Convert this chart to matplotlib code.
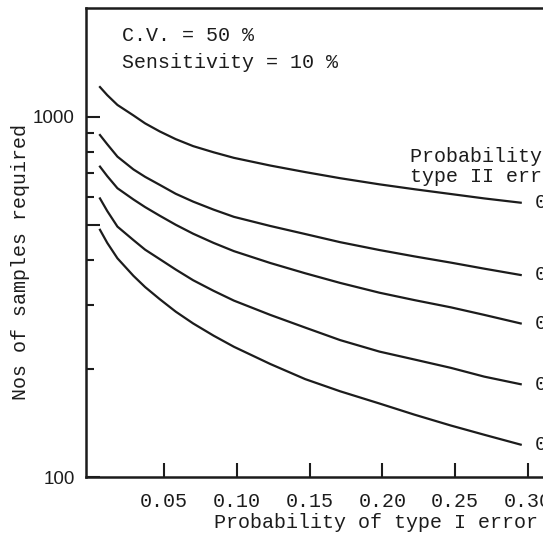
import matplotlib
matplotlib.use('Agg')
import matplotlib.pyplot as plt
from matplotlib.ticker import FixedLocator, NullFormatter

# valores
alpha = [0.006, 0.011, 0.018, 0.029, 0.037, 0.047, 0.058, 0.070, 0.084,
         0.098, 0.123, 0.147, 0.171, 0.198, 0.222, 0.247, 0.270, 0.295]
beta_labels = ['0.01', '0.05', '0.10', '0.20', '0.30']
n_b01 = [1211, 1150, 1080, 1010, 960, 912, 868, 830, 798,
         770, 733, 703, 676, 650, 630, 611, 594, 578]
n_b05 = [891, 840, 776, 715, 682, 648, 612, 582, 553,
         528, 498, 473, 449, 427, 410, 394, 379, 364]
n_b10 = [728, 685, 634, 590, 562, 532, 502, 474, 447,
         424, 393, 368, 346, 325, 310, 296, 282, 267]
n_b20 = [594, 548, 496, 455, 428, 403, 377, 352, 329,
         309, 282, 260, 240, 223, 212, 201, 190, 181]
n_b30 = [486, 447, 405, 362, 337, 312, 288, 267, 247,
         230, 206, 187, 173, 160, 149, 139, 131, 123]
curvas = [n_b01, n_b05, n_b10, n_b20, n_b30]

x_ticks = [0.05, 0.10, 0.15, 0.20, 0.25, 0.30]
x_ticklabels = ['0.05', '0.10', '0.15', '0.20', '0.25', '0.30']

W, H = 543, 535
tinta = '#1c1c1c'
mono = 'Liberation Mono'

fig = plt.figure(figsize=(W / 100, H / 100), dpi=100)
ax = fig.add_axes([86 / W, (H - 477) / H, 0.948, (477 - 8.3) / H])

for n in curvas:
    ax.plot(alpha, n, color=tinta, lw=1.6, solid_joinstyle='round')

# etiquetas de beta al final de cada curva (recortadas por el borde, como en el original)
for n, lab in zip(curvas, beta_labels):
    ax.annotate(lab, xy=(alpha[-1], n[-1]), xytext=(10, 0), textcoords='offset points',
                ha='left', va='center', family=mono, fontsize=14.4, color=tinta)

ax.set_yscale('log')
ax.set_xlim(-0.0036, 0.35)
ax.set_ylim(100, 2004)

ax.set_yticks([100, 500, 1000])
ax.set_yticklabels(['100', '', '1000'], family='Liberation Sans', fontsize=13.5, color=tinta)
ax.yaxis.set_minor_locator(FixedLocator([200, 300, 400, 600, 700, 800, 900]))
ax.yaxis.set_minor_formatter(NullFormatter())

ax.set_xticks(x_ticks)
ax.set_xticklabels(x_ticklabels, family=mono, fontsize=14.4, color=tinta)

ax.tick_params(axis='y', which='major', direction='in', length=10, width=1.5, pad=8, colors=tinta)
ax.tick_params(axis='y', which='minor', direction='in', length=6, width=1.5, colors=tinta)
ax.tick_params(axis='x', which='major', direction='in', length=10, width=1.5, pad=11, colors=tinta)

for lado in ['left', 'bottom', 'top']:
    ax.spines[lado].set_linewidth(1.8)
    ax.spines[lado].set_color(tinta)
ax.spines['right'].set_visible(False)

# textos
fig.text(122 / W, 1 - 41 / H, 'C.V. = 50 %', family=mono, fontsize=14.4, color=tinta, va='baseline')
fig.text(122 / W, 1 - 68 / H, 'Sensitivity = 10 %', family=mono, fontsize=14.4, color=tinta, va='baseline')
fig.text(410 / W, 1 - 162 / H, 'Probability of', family=mono, fontsize=14.4, color=tinta, va='baseline')
fig.text(410 / W, 1 - 182 / H, 'type II error', family=mono, fontsize=14.4, color=tinta, va='baseline')
fig.text(376 / W, 1 - 522 / H, 'Probability of type I error', family=mono, fontsize=14.4,
         color=tinta, ha='center', va='center')
fig.text(21 / W, 1 - 261.5 / H, 'Nos of samples required', family=mono, fontsize=14.4,
         color=tinta, ha='center', va='center', rotation=90)

fig.savefig('out.png', dpi=100)
